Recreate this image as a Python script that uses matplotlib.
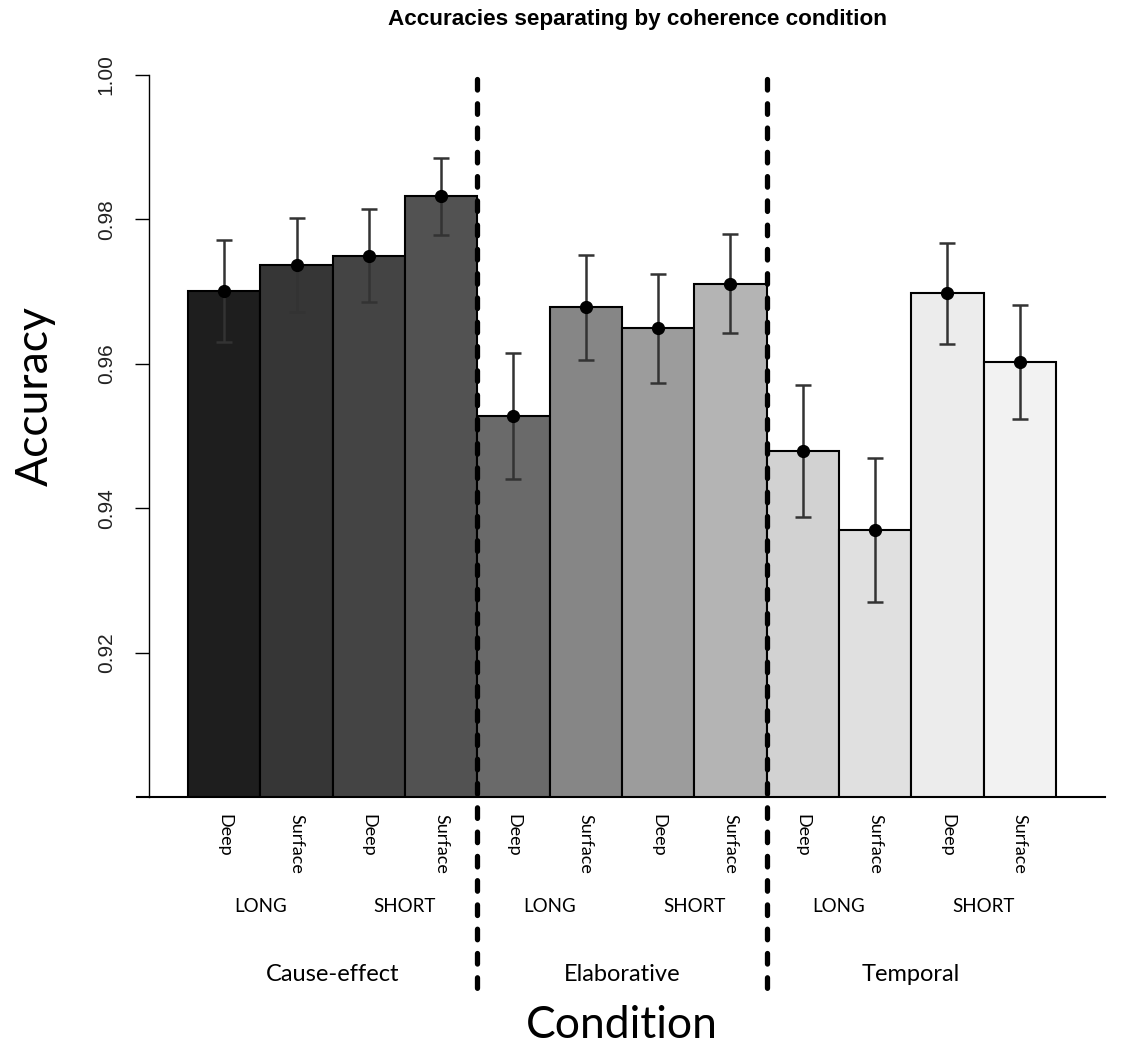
import matplotlib
matplotlib.use("Agg")
import matplotlib.pyplot as plt
import numpy as np

# bar values (mean accuracy and half-width of error bars)
groups = ["Cause-effect", "Elaborative", "Temporal"]
lengths = ["LONG", "SHORT"]
levels = ["Deep", "Surface"]
accuracy = [0.9701, 0.9737, 0.9750, 0.9832,
            0.9528, 0.9678, 0.9649, 0.9711,
            0.9479, 0.9370, 0.9698, 0.9603]
error = [0.0071, 0.0065, 0.0064, 0.0053,
         0.0087, 0.0073, 0.0075, 0.0069,
         0.0091, 0.0100, 0.0070, 0.0079]
bar_colors = ["#1e1e1e", "#363636", "#444444", "#525252",
              "#6a6a6a", "#868686", "#9c9c9c", "#b4b4b4",
              "#d2d2d2", "#e0e0e0", "#ececec", "#f2f2f2"]
yticks = [0.92, 0.94, 0.96, 0.98, 1.00]

W, H = 1121, 1053
fig = plt.figure(figsize=(W / 100, H / 100), dpi=100)
ax = fig.add_axes([149 / W, 1 - 797 / H, (1105 - 149) / W, (797 - 75) / H])

x = np.arange(len(accuracy))
ax.bar(x, accuracy, width=1.0, color=bar_colors, edgecolor="black", linewidth=1.5)
ax.errorbar(x, accuracy, yerr=error, fmt="none", ecolor="#333333",
            elinewidth=1.8, capsize=6, capthick=1.8, zorder=3)
ax.plot(x, accuracy, "o", color="black", markersize=8.5, zorder=4)

ax.set_xlim(-1.04, 12.18)
ax.set_ylim(0.90, 1.00)

for s in ["top", "right", "bottom"]:
    ax.spines[s].set_visible(False)
ax.spines["left"].set_linewidth(1.0)
ax.set_yticks(yticks)
ax.set_yticklabels(["%.2f" % v for v in yticks], rotation=90, va="center",
                   family="Liberation Sans", fontsize=15, color="#222222")
ax.tick_params(axis="y", direction="out", length=10, width=1.0, pad=14)
ax.set_xticks([])

# x axis line, reaching a bit left of the y axis
ax.plot([-1.205, 12.18], [0.90, 0.90], color="black", lw=1.5, clip_on=False)

# group separators
for xs in [3.5, 7.5]:
    ax.plot([xs, xs], [0.9995, 0.8725], color="black", lw=3.8,
            linestyle=(0, (2.0, 2.6)), dash_capstyle="round",
            clip_on=False, zorder=5)

trans = ax.get_xaxis_transform()
font = "Lato"
for i in x:
    ax.text(i, -0.024, levels[i % 2], rotation=270, ha="center", va="top",
            transform=trans, family=font, fontsize=13)
for g in range(len(groups)):
    for k in range(len(lengths)):
        xc = g * 4 + k * 2 + 0.5
        ax.text(xc, -0.152, lengths[k], ha="center", va="center",
                transform=trans, family=font, fontsize=13.5)
    ax.text(g * 4 + 1.5, -0.2465, groups[g], ha="center", va="center",
            transform=trans, family=font, fontsize=17)

ax.text(5.5, -0.316, "Condition", ha="center", va="center",
        transform=trans, family=font, fontsize=32)
fig.text(35 / W, 1 - 396 / H, "Accuracy", rotation=90, ha="center", va="center",
         family=font, fontsize=32)
fig.text(638 / W, 1 - 20 / H, "Accuracies separating by coherence condition",
         ha="center", va="center", family="Liberation Sans",
         fontweight="bold", fontsize=16.2)

fig.savefig("out.png", dpi=100)
